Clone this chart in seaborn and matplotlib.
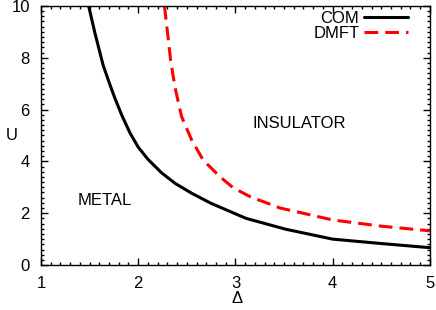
import numpy as np
import pandas as pd
import seaborn as sns
import matplotlib
matplotlib.use("Agg")
import matplotlib.pyplot as plt
from matplotlib.ticker import MultipleLocator

# phase boundary
com_delta = [1.49, 1.555, 1.64, 1.71, 1.76, 1.83, 1.915, 2.00, 2.10, 2.24, 2.38, 2.55, 2.75,
             3.11, 3.52, 4.00, 4.50, 5.00]
com_u = [10.0, 8.95, 7.7, 6.95, 6.44, 5.79, 5.1, 4.55, 4.08, 3.56, 3.15, 2.77, 2.38,
         1.80, 1.38, 1.0, 0.83, 0.67]

dmft_delta = [2.27, 2.31, 2.333, 2.377, 2.446, 2.549, 2.668, 2.84, 2.977, 3.15, 3.46, 4.00, 4.50, 5.00]
dmft_u = [10.0, 8.69, 7.92, 6.88, 5.73, 4.83, 4.05, 3.41, 2.98, 2.64, 2.2, 1.74, 1.5, 1.32]

df = pd.concat([
    pd.DataFrame({"delta": com_delta, "U": com_u, "method": "COM"}),
    pd.DataFrame({"delta": dmft_delta, "U": dmft_u, "method": "DMFT"}),
])

sns.set_style("ticks")
plt.rcParams["font.family"] = ["Liberation Sans", "DejaVu Sans"]
plt.rcParams["font.size"] = 12
plt.rcParams["text.color"] = "black"
plt.rcParams["axes.labelcolor"] = "black"

fig = plt.figure(figsize=(4.36, 3.10), dpi=100)
ax = fig.add_axes([0.094, 0.145, 0.892, 0.836])

sns.lineplot(data=df, x="delta", y="U", hue="method", style="method",
             palette={"COM": "black", "DMFT": "#ff0000"},
             dashes={"COM": "", "DMFT": (4.5, 2.3)},
             linewidth=2.2, sort=False, estimator=None, ax=ax)

ax.set_xlim(1, 5)
ax.set_ylim(0, 10)
ax.xaxis.set_major_locator(MultipleLocator(1))
ax.xaxis.set_minor_locator(MultipleLocator(0.1))
ax.yaxis.set_major_locator(MultipleLocator(2))
ax.yaxis.set_minor_locator(MultipleLocator(0.2))
ax.tick_params(which="both", direction="in", top=True, right=True, width=1,
               labelsize=12, colors="black")
ax.tick_params(which="major", length=5, pad=8)
ax.tick_params(which="minor", length=2.5)
for s in ax.spines.values():
    s.set_linewidth(1)
    s.set_color("black")

ax.set_xlabel("Δ", fontsize=12, va="center")
ax.set_ylabel("U", fontsize=12, rotation=0, va="center")
ax.xaxis.set_label_coords(0.503, -0.13)
ax.yaxis.set_label_coords(-0.075, 0.5)

ax.text(3.66, 5.48, "INSULATOR", ha="center", va="center", fontsize=12)
ax.text(1.66, 2.5, "METAL", ha="center", va="center", fontsize=12)

leg = ax.legend(loc="upper right", frameon=False, markerfirst=False, handlelength=2.6,
                borderaxespad=0.0, labelspacing=0.0, handletextpad=0.3, fontsize=12,
                bbox_to_anchor=(0.96, 1.005))

fig.savefig("out.png", dpi=100)
